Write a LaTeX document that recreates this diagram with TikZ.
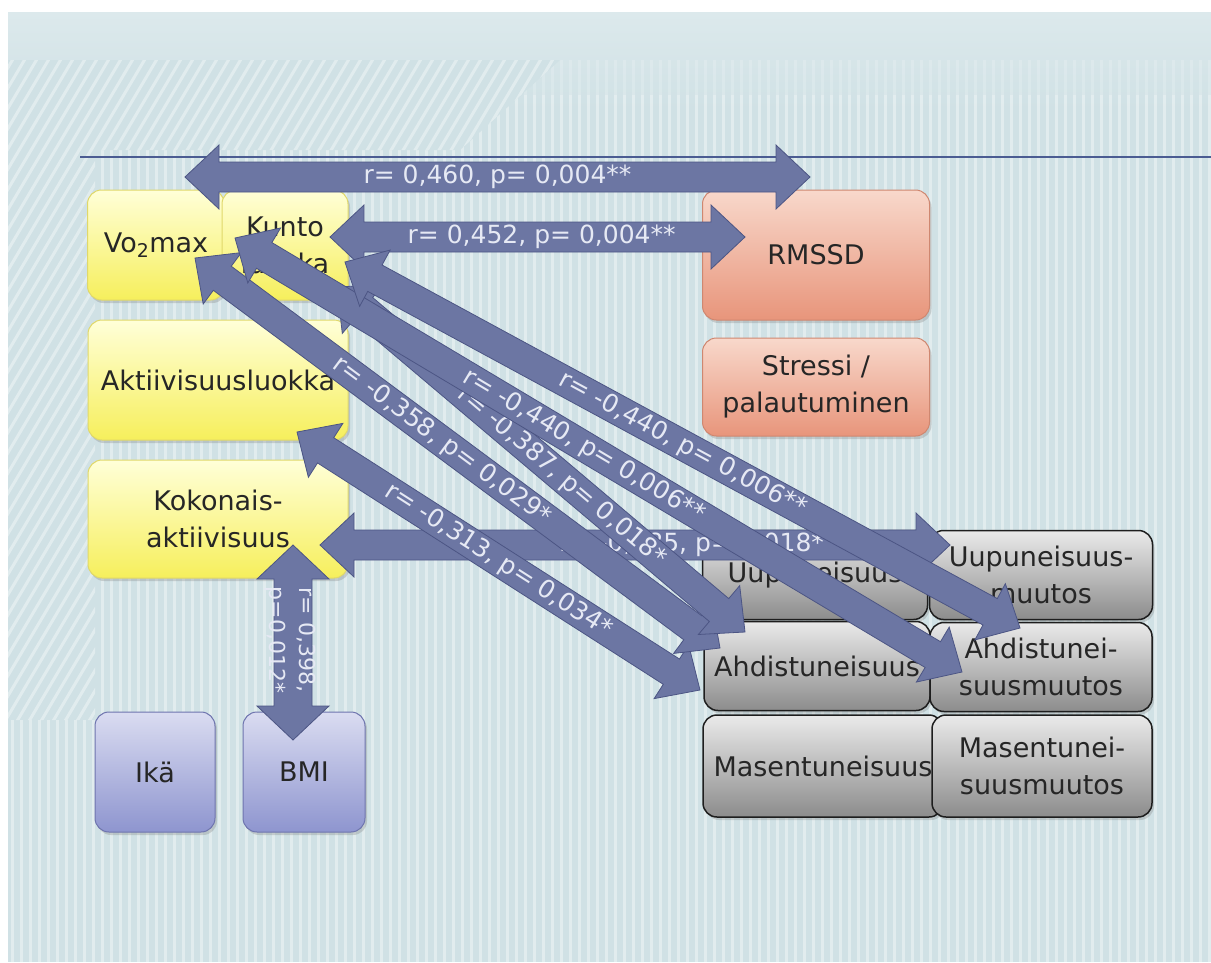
\documentclass[tikz,border=0pt]{standalone}
\usepackage{fontspec}
\setmainfont{DejaVu Sans}
\usetikzlibrary{calc,shadows}
\definecolor{bg}{HTML}{D0E1E5}
\definecolor{bgtop}{HTML}{DCE9EC}
\definecolor{ytop}{HTML}{FFFFD8}
\definecolor{ybot}{HTML}{F6EF5C}
\definecolor{yedge}{HTML}{E0D86A}
\definecolor{stop}{HTML}{F8D8CB}
\definecolor{sbot}{HTML}{E8957B}
\definecolor{sedge}{HTML}{CF8770}
\definecolor{ptop}{HTML}{DADCF1}
\definecolor{pbot}{HTML}{8E95CF}
\definecolor{pedge}{HTML}{6E74AE}
\definecolor{gtop}{HTML}{EAEAEA}
\definecolor{gbot}{HTML}{8C8C8C}
\definecolor{gedge}{HTML}{1E1E1E}
\definecolor{afill}{HTML}{6C76A3}
\definecolor{aedge}{HTML}{4C5584}
\definecolor{labc}{HTML}{E6E9F4}
\definecolor{rule}{HTML}{4B5C92}
\def\ahl{34pt}\def\ahw{32pt}\def\asw{15pt}
\newcommand\blockarrow[4][]{%
  \coordinate (ba1) at ($(#2)!\ahl!(#3)$);
  \coordinate (ba2) at ($(#3)!\ahl!(#2)$);
  \filldraw[barrow] (#2) -- ($(ba1)!\ahw!90:(#3)$) -- ($(ba1)!\asw!90:(#3)$)
    -- ($(ba2)!\asw!-90:(#2)$) -- ($(ba2)!\ahw!-90:(#2)$) -- (#3)
    -- ($(ba2)!\ahw!90:(#2)$) -- ($(ba2)!\asw!90:(#2)$)
    -- ($(ba1)!\asw!-90:(#3)$) -- ($(ba1)!\ahw!-90:(#3)$) -- cycle;
  \path (#2) -- (#3) node[arrowlabel, sloped, #1] {#4};
}
\begin{document}
\begin{tikzpicture}[x=1pt,y=-1pt,
  box/.style={rounded corners=14pt, line width=1pt, align=center,
    font=\fontsize{27}{37}\selectfont, text=black!85, inner sep=0pt,
    drop shadow={shadow xshift=2pt,shadow yshift=-3pt,opacity=.3}},
  sz/.style 2 args={minimum width=#1pt, minimum height=#2pt},
  ybox/.style={box, draw=yedge, top color=ytop, bottom color=ybot},
  sbox/.style={box, draw=sedge, top color=stop, bottom color=sbot},
  pbox/.style={box, draw=pedge, top color=ptop, bottom color=pbot},
  gbox/.style={box, draw=gedge, line width=1.5pt, top color=gtop, bottom color=gbot},
  barrow/.style={fill=afill, draw=aedge, line width=0.8pt, line join=miter},
  arrowlabel/.style={text=labc, font=\fontsize{25}{28}\selectfont, inner sep=0pt}]
\useasboundingbox (0,0) rectangle (1211,962);
% background
\fill[white] (0,0) rectangle (1211,962);
\fill[bg] (8,12) rectangle (1211,962);
\shade[top color=bgtop, bottom color=bg] (8,12) rectangle (1211,110);
\foreach \x in {12,21,...,1211} \draw[white, opacity=.38, line width=3pt] (\x,95) -- (\x,962);
\foreach \x in {12,21,...,1211} \draw[white, opacity=.18, line width=3pt] (\x,60) -- (\x,95);
\begin{scope}
  \clip (8,60) -- (560,60) -- (460,150) -- (95,150) -- (95,720) -- (8,720) -- cycle;
  \fill[bg] (8,60) rectangle (620,720);
  \foreach \i in {-450,-438,...,640} \draw[white, opacity=.38, line width=3pt] (\i,760) -- (\i+450,0);
\end{scope}
\draw[rule, line width=2.5pt] (80,157) -- (1211,157);
% boxes
\node[ybox, sz={137}{110}] (vo) at (156,245) {Vo\textsubscript{2}max};
\node[ybox, sz={126}{110}] (ku) at (285,245) {Kunto\\luokka};
\node[ybox, sz={260}{120}] (ak) at (218,380) {Aktiivisuusluokka};
\node[ybox, sz={260}{118}] (ko) at (218,519) {Kokonais-\\aktiivisuus};
\node[sbox, sz={227}{130}] (rm) at (816,255) {RMSSD};
\node[sbox, sz={227}{98}] (st) at (816,387) {Stressi /\\palautuminen};
\node[pbox, sz={120}{120}] (ik) at (155,772) {Ikä};
\node[pbox, sz={122}{120}] (bm) at (304,772) {BMI};
\node[gbox, sz={225}{89}] (uu) at (815,575) {Uupuneisuus};
\node[gbox, sz={223}{89}] (um) at (1041,575) {Uupuneisuus-\\muutos};
\node[gbox, sz={226}{89}] (ah) at (817,666) {Ahdistuneisuus};
\node[gbox, sz={222}{89}] (am) at (1041,667) {Ahdistunei-\\suusmuutos};
\node[gbox, sz={240}{102}] (ma) at (823,766) {Masentuneisuus};
\node[gbox, sz={220}{102}] (mm) at (1042,766) {Masentunei-\\suusmuutos};
% arrow end points
\coordinate (vL) at (185,177);  \coordinate (rR) at (810,177);
\coordinate (kA) at (330,237);  \coordinate (rA) at (745,237);
\coordinate (koA) at (320,545); \coordinate (umA) at (950,545);
\coordinate (koB) at (293,545); \coordinate (bmA) at (293,740);
\coordinate (akA) at (297,432); \coordinate (maA) at (700,690);
\coordinate (voA) at (195,258); \coordinate (ahA) at (720,648);
\coordinate (kuB) at (337,287); \coordinate (ahB) at (745,632);
\coordinate (voB) at (235,238); \coordinate (amA) at (962,672);
\coordinate (kuC) at (345,262); \coordinate (amB) at (1020,628);
% arrows
\blockarrow[pos=.5]{vL}{rR}{r= 0,460, p= 0,004**}
\blockarrow[pos=.51]{kA}{rA}{r= 0,452, p= 0,004**}
\blockarrow[pos=.59]{koA}{umA}{r= -0,385, p= 0,018*}
\begingroup\def\asw{19pt}\def\ahw{36pt}
\blockarrow[pos=.5]{koB}{bmA}{}
\endgroup
\node[arrowlabel, rotate=-90, align=center, font=\fontsize{22}{30}\selectfont] (lbm) at (290,640) {r= 0,398,\\p=0,012*};
\blockarrow[pos=.5]{akA}{maA}{r= -0,313, p= 0,034*}
\blockarrow[pos=.47]{voA}{ahA}{r= -0,358, p= 0,029*}
\blockarrow[pos=.55]{kuB}{ahB}{r= -0,387, p= 0,018*}
\blockarrow[pos=.48]{voB}{amA}{r= -0,440, p= 0,006**}
\blockarrow[pos=.5]{kuC}{amB}{r= -0,440, p= 0,006**}
\end{tikzpicture}
\end{document}
